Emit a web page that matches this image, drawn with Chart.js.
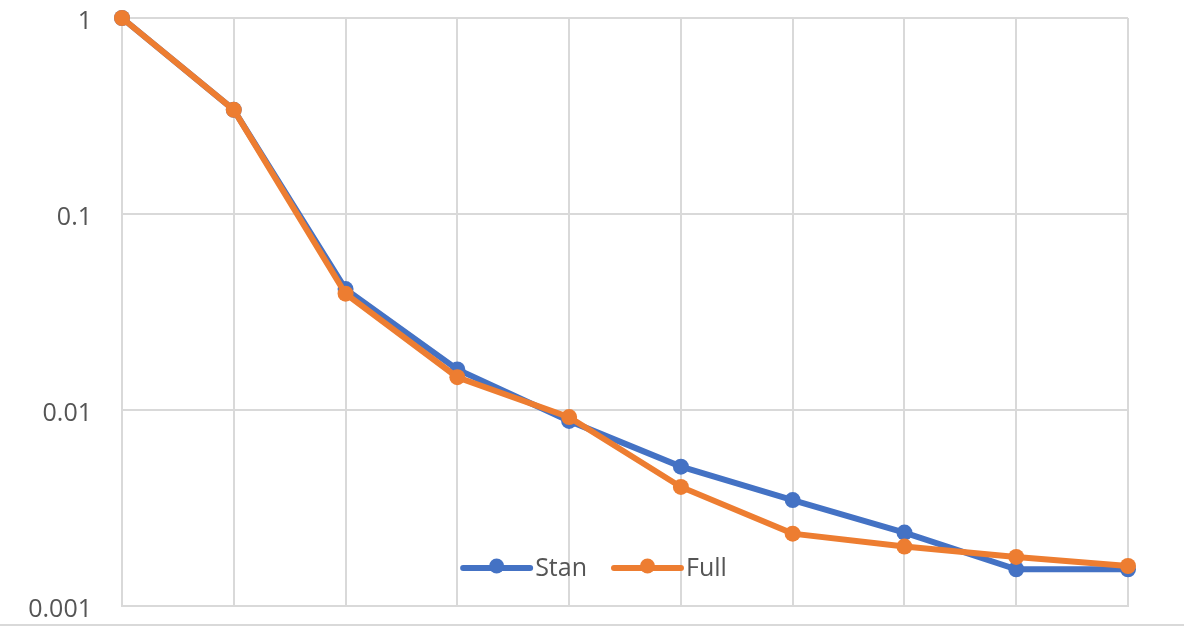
<!DOCTYPE html>
<html>
<head>
<meta charset="utf-8">
<script src="https://cdn.jsdelivr.net/npm/chart.js@4/dist/chart.umd.min.js"></script>
<style>
  html, body { margin: 0; padding: 0; background: #fff; }
  #wrap { position: relative; width: 1190px; height: 627px; }
  #wrap::after { content: ""; position: absolute; left: 0; right: 6px; top: 624px; height: 2px; background: #d9d9d9; }
</style>
</head>
<body>
<div id="wrap"><canvas id="c" width="1190" height="627"></canvas></div>
<script>
// Steps along the horizontal axis (no labels are shown for them)
const steps = ['1', '2', '3', '4', '5', '6', '7', '8', '9', '10'];

// Series values (log scale)
const stan = [1, 0.34, 0.0414, 0.0161, 0.0088, 0.00514, 0.00347, 0.00237, 0.00154, 0.00154];
const full = [1, 0.34, 0.0392, 0.0147, 0.0092, 0.00405, 0.00234, 0.00201, 0.00178, 0.0016];

// Decade ticks on the value axis and their printed labels
const yTicks = [0.001, 0.01, 0.1, 1];
const yTickLabels = ['0.001', '0.01', '0.1', '1'];

const GRID = '#d9d9d9';
const TEXT = '#555555';
const FONT = "'Open Sans', 'Liberation Sans', sans-serif";

// Legend drawn inside the plot, near its bottom
const innerLegend = {
  id: 'innerLegend',
  afterDatasetsDraw(chart) {
    const ctx = chart.ctx;
    const sets = chart.data.datasets;
    const lineLen = 67, gapText = 5, gapItem = 27;
    ctx.save();
    ctx.font = '25px ' + FONT;
    ctx.textBaseline = 'middle';
    const widths = sets.map(d => lineLen + gapText + ctx.measureText(d.label).width);
    const total = widths.reduce((a, b) => a + b, 0) + gapItem * (sets.length - 1);
    let x = chart.width / 2 - total / 2;
    const y = 568;
    sets.forEach((d, i) => {
      ctx.strokeStyle = d.borderColor;
      ctx.lineWidth = 6;
      ctx.lineCap = 'round';
      ctx.beginPath();
      ctx.moveTo(x, y);
      ctx.lineTo(x + lineLen, y);
      ctx.stroke();
      ctx.fillStyle = d.borderColor;
      ctx.beginPath();
      ctx.arc(x + lineLen / 2, y - 2, 7.5, 0, Math.PI * 2);
      ctx.fill();
      ctx.fillStyle = TEXT;
      ctx.textAlign = 'left';
      ctx.fillText(d.label, x + lineLen + gapText, y + 1);
      x += widths[i] + gapItem;
    });
    ctx.restore();
  }
};

function noEdgePadding(scale) {
  scale.paddingTop = 0;
  scale.paddingBottom = 0;
  scale.paddingLeft = 0;
  scale.paddingRight = 0;
}

new Chart(document.getElementById('c'), {
  type: 'line',
  data: {
    labels: steps,
    datasets: [
      {
        label: 'Stan',
        data: stan,
        order: 1,
        borderColor: '#4472C4',
        backgroundColor: '#4472C4',
        borderWidth: 6,
        pointRadius: 8,
        pointHoverRadius: 8,
        pointBorderWidth: 0,
        tension: 0,
        clip: false
      },
      {
        label: 'Full',
        data: full,
        order: 0,
        borderColor: '#ED7D31',
        backgroundColor: '#ED7D31',
        borderWidth: 6,
        pointRadius: 8,
        pointHoverRadius: 8,
        pointBorderWidth: 0,
        tension: 0,
        clip: false
      }
    ]
  },
  options: {
    responsive: false,
    animation: false,
    events: [],
    layout: { padding: { top: 18, bottom: 21, left: 0, right: 62 } },
    plugins: {
      legend: { display: false },
      tooltip: { enabled: false }
    },
    scales: {
      x: {
        type: 'category',
        offset: false,
        grid: { color: GRID, lineWidth: 2, drawTicks: false },
        border: { color: GRID, width: 2 },
        ticks: { display: false },
        afterFit(scale) { scale.height = 0; noEdgePadding(scale); }
      },
      y: {
        type: 'logarithmic',
        min: 0.001,
        max: 1,
        grid: { color: GRID, lineWidth: 2, drawTicks: false },
        border: { color: GRID, width: 2 },
        afterBuildTicks(scale) {
          scale.ticks = yTicks.map(v => ({ value: v }));
        },
        ticks: {
          color: TEXT,
          font: { family: FONT, size: 25 },
          padding: 30,
          labelOffset: 4,
          callback(value) {
            const i = yTicks.indexOf(value);
            return i >= 0 ? yTickLabels[i] : '';
          }
        },
        afterFit(scale) { scale.width = 122; noEdgePadding(scale); }
      }
    }
  },
  plugins: [innerLegend]
});
</script>
</body>
</html>
